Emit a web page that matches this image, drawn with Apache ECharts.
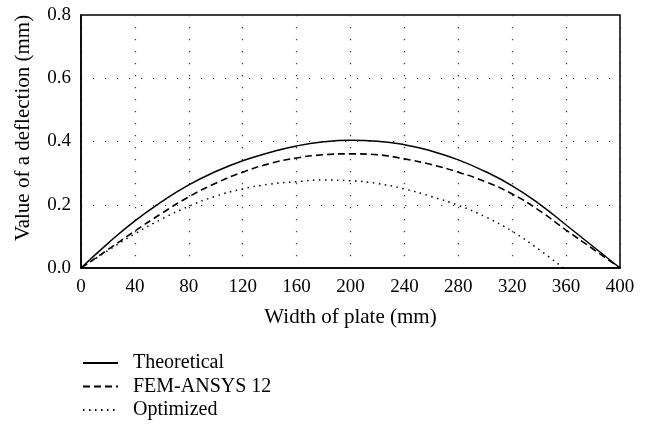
<!DOCTYPE html>
<html>
<head>
<meta charset="utf-8">
<script src="https://cdn.jsdelivr.net/npm/echarts@6/dist/echarts.min.js"></script>
<style>
html,body{margin:0;padding:0;background:#fff;}
#chart{width:648px;height:427px;}
</style>
</head>
<body>
<div id="chart"></div>
<script>
var xPositions = [0, 20, 40, 60, 80, 100, 120, 140, 160, 180, 200, 220, 240, 260, 280, 300, 320, 340, 360, 380, 400];
var theoretical = [0, 0.078, 0.149, 0.210, 0.263, 0.305, 0.339, 0.365, 0.386, 0.399, 0.404, 0.401, 0.390, 0.370, 0.342, 0.305, 0.260, 0.203, 0.136, 0.068, 0];
var femAnsys = [0, 0.058, 0.117, 0.173, 0.225, 0.268, 0.303, 0.330, 0.348, 0.358, 0.361, 0.358, 0.345, 0.327, 0.303, 0.273, 0.234, 0.182, 0.120, 0.060, 0];
var optX = [0, 20, 40, 60, 80, 100, 120, 140, 160, 180, 200, 220, 240, 260, 280, 300, 320, 340, 358];
var optimized = [0, 0.055, 0.108, 0.155, 0.195, 0.227, 0.250, 0.265, 0.273, 0.278, 0.276, 0.267, 0.250, 0.226, 0.198, 0.162, 0.116, 0.058, 0];
var seriesNames = ['Theoretical', 'FEM-ANSYS 12', 'Optimized'];
var xTicks = {min: 0, max: 400, interval: 40};
var yTicks = {min: 0, max: 0.8, interval: 0.2};

function pairs(xs, ys) { return xs.map(function (x, i) { return [x, ys[i]]; }); }

var font = 'Liberation Serif';
var chart = echarts.init(document.getElementById('chart'), null, {renderer: 'canvas'});
chart.setOption({
  animation: false,
  backgroundColor: '#fff',
  textStyle: {fontFamily: font, color: '#000'},
  grid: {left: 81, right: 28, top: 15, bottom: 159, show: true, borderColor: '#000', borderWidth: 1.5, backgroundColor: 'transparent'},
  legend: {
    orient: 'vertical', left: 77, top: 348, height: 75,
    itemWidth: 35, itemHeight: 14, itemGap: 3.5,
    itemStyle: {opacity: 0},
    textStyle: {fontFamily: font, fontSize: 20, lineHeight: 18.5, color: '#000', padding: [0, 0, 0, 10]},
    data: seriesNames
  },
  xAxis: {
    type: 'value', min: xTicks.min, max: xTicks.max, interval: xTicks.interval,
    name: 'Width of plate (mm)', nameLocation: 'middle', nameGap: 39,
    nameTextStyle: {fontFamily: font, fontSize: 21, color: '#000'},
    axisLine: {show: true, lineStyle: {color: '#000', width: 1.5}},
    axisTick: {show: false},
    axisLabel: {fontFamily: font, fontSize: 19, color: '#000', margin: 10},
    splitLine: {show: true, lineStyle: {color: '#333', width: 1.2, type: [1.2, 10.8]}}
  },
  yAxis: {
    type: 'value', min: yTicks.min, max: yTicks.max, interval: yTicks.interval,
    name: 'Value of a deflection (mm)', nameLocation: 'middle', nameGap: 47,
    nameTextStyle: {fontFamily: font, fontSize: 21, color: '#000', padding: [0, 0, 0, 27]},
    axisLine: {show: true, lineStyle: {color: '#000', width: 1.5}},
    axisTick: {show: false},
    axisLabel: {fontFamily: font, fontSize: 19, color: '#000', margin: 10, formatter: function (v) { return v.toFixed(1); }},
    splitLine: {show: true, lineStyle: {color: '#333', width: 1.2, type: [1.2, 10.8]}}
  },
  series: [
    {name: seriesNames[0], type: 'line', data: pairs(xPositions, theoretical), smooth: 0.5, symbol: 'none',
     lineStyle: {color: '#000', width: 1.5, type: 'solid'}, itemStyle: {color: '#000'}},
    {name: seriesNames[1], type: 'line', data: pairs(xPositions, femAnsys), smooth: 0.5, symbol: 'none',
     lineStyle: {color: '#000', width: 1.6, type: [7, 4]}, itemStyle: {color: '#000'}},
    {name: seriesNames[2], type: 'line', data: pairs(optX, optimized), smooth: 0.5, symbol: 'none',
     lineStyle: {color: '#000', width: 1.5, type: [1.5, 4.5]}, itemStyle: {color: '#000'}}
  ]
});
</script>
</body>
</html>
